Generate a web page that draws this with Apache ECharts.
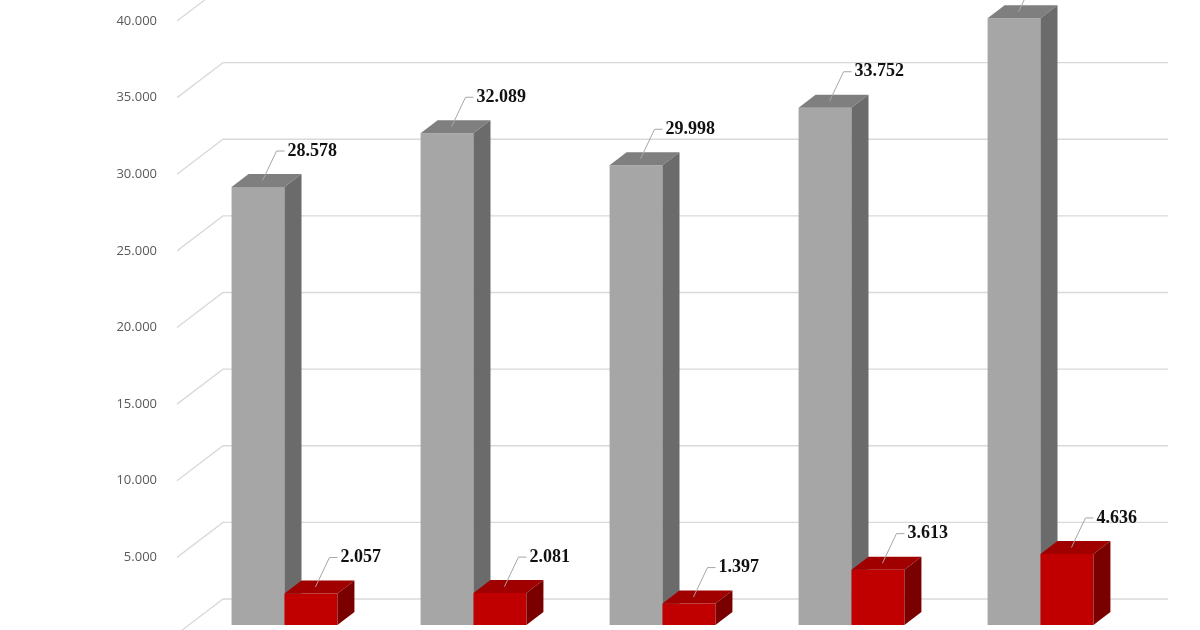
<!DOCTYPE html>
<html><head><meta charset="utf-8">
<script src="https://cdn.jsdelivr.net/npm/echarts@6/dist/echarts.min.js"></script>
<style>html,body{margin:0;padding:0;background:#fff}#c{width:1200px;height:630px}</style>
</head><body><div id="c"></div>
<script>
const categories = ['A','B','C','D','E'];
const grayValues = [28578, 32089, 29998, 33752, 39590];
const redValues = [2057, 2081, 1397, 3613, 4636];
const tickValues = [0,5000,10000,15000,20000,25000,30000,35000,40000];

function fmt(v){return String(v).replace(/\B(?=(\d{3})+(?!\d))/g,'.');}

const chart = echarts.init(document.getElementById('c'));

function barRender(colors, side){
  return function(params, api){
    const cat = api.value(0), val = api.value(1);
    const top = api.coord([cat, val]);
    const base = api.coord([cat, 0]);
    const band = api.size([1,0])[0];
    const w = band*0.28;
    const dx = 17, dy = -13;
    const x0 = side < 0 ? top[0]-w : top[0];
    const x1 = x0 + w;
    const yt = top[1], yb = base[1];
    const cx = (x0+x1)/2 + dx/2, cy = yt + dy/2;
    const lx = cx + 10, ly = yt - 36;
    return {type:'group', children:[
      {type:'rect', shape:{x:x0,y:yt,width:w,height:yb-yt}, style:{fill:colors[0]}},
      {type:'polygon', shape:{points:[[x0,yt],[x0+dx,yt+dy],[x1+dx,yt+dy],[x1,yt]]}, style:{fill:colors[1]}},
      {type:'polygon', shape:{points:[[x1,yt],[x1+dx,yt+dy],[x1+dx,yb+dy],[x1,yb]]}, style:{fill:colors[2]}},
      {type:'polyline', shape:{points:[[cx-4,cy],[lx,ly],[lx+8,ly]]}, style:{stroke:'#a6a6a6',lineWidth:1,fill:null}},
      {type:'text', x:lx+11, y:ly, style:{text:fmt(val), fill:'#111', font:'bold 18px "Liberation Serif", serif', verticalAlign:'middle', align:'left'}}
    ]};
  };
}

function gridRender(params, api){
  const v = api.value(0);
  const p = api.coord([0, v]);
  const cs = params.coordSys;
  const y = p[1];
  const xL = cs.x - 13, xB = cs.x + 33, xR = 1168;
  return {type:'group', children:[
    {type:'polyline', shape:{points:[[xL,y+9],[xB,y-26],[xR,y-26]]}, style:{stroke:'#d9d9d9',lineWidth:1.3,fill:null}},
    {type:'text', x:cs.x-33, y:y+9, style:{text:v===0?'':fmt(v), fill:'#595959', font:'13px "Open Sans", sans-serif', align:'right', verticalAlign:'middle'}}
  ]};
}

chart.setOption({
  animation:false,
  grid:{left:190, width:945, top:12, height:613},
  xAxis:{type:'category', data:categories, show:false},
  yAxis:{type:'value', min:0, max:40000, interval:5000, show:false},
  series:[
    {type:'custom', renderItem:gridRender, data:tickValues.map(v=>[v]), encode:{x:-1,y:0}, silent:true, z:1, clip:false},
    {type:'custom', renderItem:barRender(['#a6a6a6','#7f7f7f','#6b6b6b'],-1), data:grayValues.map((v,i)=>[i,v]), encode:{x:0,y:1}, z:3, clip:false},
    {type:'custom', renderItem:barRender(['#c00000','#a00000','#7a0000'],1), data:redValues.map((v,i)=>[i,v]), encode:{x:0,y:1}, z:4, clip:false}
  ]
});
</script></body></html>
